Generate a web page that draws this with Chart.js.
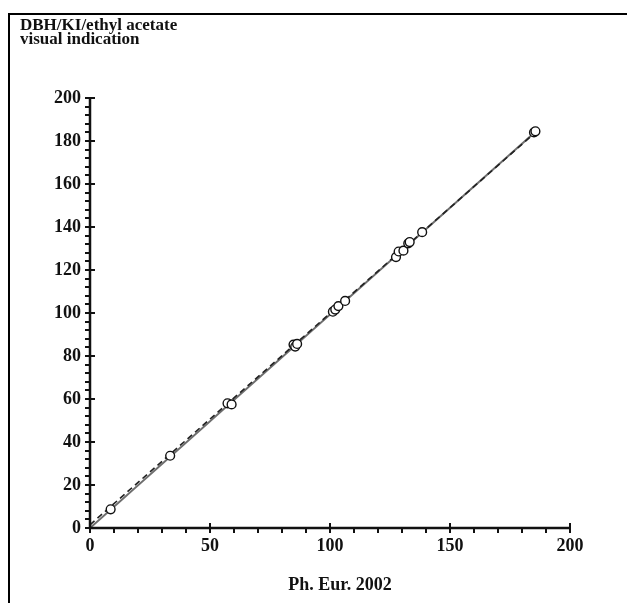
<!DOCTYPE html>
<html>
<head>
<meta charset="utf-8">
<script src="https://cdn.jsdelivr.net/npm/chart.js@4"></script>
<style>
  html, body { margin:0; padding:0; background:#fff; }
  #wrap { position:relative; width:627px; height:603px; overflow:hidden; }
  #frame { position:absolute; left:8px; top:13px; width:640px; height:620px;
           border-top:2px solid #000; border-left:2px solid #000; }
  canvas { position:absolute; left:0; top:0; }
  .t { position:absolute; font-family:"Liberation Serif","DejaVu Serif",serif; font-weight:bold; color:#111; white-space:nowrap; }
  #ytitle { left:20px; top:18px; font-size:17px; line-height:14px; }
  #xtitle { left:340px; top:575px; font-size:18px; transform:translateX(-50%); line-height:18px; }
</style>
</head>
<body>
<div id="wrap">
  <div id="frame"></div>
  <canvas id="c" width="627" height="603"></canvas>
  <div class="t" id="ytitle">DBH/KI/ethyl acetate<br>visual indication</div>
  <div class="t" id="xtitle">Ph. Eur. 2002</div>
</div>
<script>
// ---- data ----
const phEur   = [8.6, 33.4, 57.3, 59.0, 84.8, 85.5, 86.3, 101.2, 102.2, 103.5, 106.3, 127.5, 128.6, 130.6, 132.6, 133.2, 138.4, 185.0, 185.6];
const dbhKi   = [8.7, 33.6, 58.0, 57.5, 85.3, 84.4, 85.6, 100.6, 101.6, 103.2, 105.6, 126.0, 128.6, 129.0, 132.4, 133.0, 137.6, 184.0, 184.5];
const solidLineX  = [0, 185.6];
const solidLineY  = [0, 184.3];
const dashedLineX = [0, 185.6];
const dashedLineY = [1.5, 184];
const xTicks = [0, 50, 100, 150, 200];
const yTicks = [0, 20, 40, 60, 80, 100, 120, 140, 160, 180, 200];
const xMinorStep = 10;
const yMinorStep = 4;

const toPts = (xs, ys) => xs.map((x, i) => ({x, y: ys[i]}));

const tickPlugin = {
  id: 'ticks',
  afterDraw(chart) {
    const ctx = chart.ctx;
    const xs = chart.scales.x, ys = chart.scales.y;
    const x0 = xs.getPixelForValue(0), y0 = ys.getPixelForValue(0);
    ctx.save();
    ctx.strokeStyle = '#111';
    ctx.lineWidth = 2;
    ctx.lineCap = 'butt';
    for (let v = xs.min; v <= xs.max + 1e-9; v += xMinorStep) {
      const px = Math.round(xs.getPixelForValue(v));
      const major = xTicks.includes(v);
      ctx.beginPath();
      ctx.moveTo(px, y0 + 5);
      ctx.lineTo(px, major ? y0 - 5 : y0);
      ctx.stroke();
    }
    for (let v = ys.min; v <= ys.max + 1e-9; v += yMinorStep) {
      const py = Math.round(ys.getPixelForValue(v));
      const major = yTicks.includes(v);
      ctx.beginPath();
      ctx.moveTo(x0 - 5, py);
      ctx.lineTo(major ? x0 + 5 : x0, py);
      ctx.stroke();
    }
    ctx.lineWidth = 2.5;
    ctx.beginPath();
    ctx.moveTo(x0, ys.getPixelForValue(ys.max));
    ctx.lineTo(x0, y0);
    ctx.lineTo(xs.getPixelForValue(xs.max), y0);
    ctx.stroke();
    ctx.restore();
  }
};

const font = {family: '"Liberation Serif", "DejaVu Serif", serif', weight: 'bold', size: 18};

new Chart(document.getElementById('c'), {
  type: 'scatter',
  data: {
    datasets: [
      { type: 'line', data: toPts(solidLineX, solidLineY), borderColor: '#6e6e6e', borderWidth: 2, pointRadius: 0, fill: false, order: 3 },
      { type: 'line', data: toPts(dashedLineX, dashedLineY), borderColor: '#222', borderWidth: 1.6, borderDash: [6, 4], pointRadius: 0, fill: false, order: 2 },
      { data: toPts(phEur, dbhKi), pointRadius: 4.4, pointBackgroundColor: '#fff', pointBorderColor: '#111', pointBorderWidth: 1.4, order: 1 }
    ]
  },
  options: {
    responsive: false,
    animation: false,
    events: [],
    layout: { padding: { left: 10, top: 98, right: 57, bottom: 0 } },
    plugins: { legend: { display: false }, tooltip: { enabled: false } },
    scales: {
      x: {
        type: 'linear', min: 0, max: 200,
        afterFit: s => { s.height = 75; },
        grid: { display: false, drawTicks: false },
        border: { display: false },
        ticks: { stepSize: 50, padding: 8, color: '#111', font, maxRotation: 0,
                 callback: v => xTicks.includes(v) ? String(v) : '' }
      },
      y: {
        type: 'linear', min: 0, max: 200,
        afterFit: s => { s.width = 80; },
        grid: { display: false, drawTicks: false },
        border: { display: false },
        ticks: { stepSize: 20, padding: 9, color: '#111', font,
                 callback: v => yTicks.includes(v) ? String(v) : '' }
      }
    }
  },
  plugins: [tickPlugin]
});
</script>
</body>
</html>
